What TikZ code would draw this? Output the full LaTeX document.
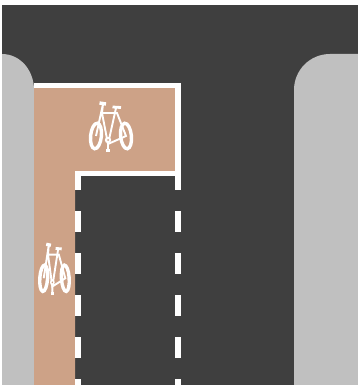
\documentclass[tikz,border=0pt]{standalone}
\definecolor{road}{HTML}{3F3F3F}
\definecolor{kerb}{HTML}{C0C0C0}
\definecolor{lane}{HTML}{CDA287}
\tikzset{
  marking/.style={fill=white},
  spoke/.style={draw=white,line width=1.9pt},
  tyre/.style={draw=white,line width=3.4pt},
  bike/.pic={
    \draw[tyre] (-15,9) ellipse[x radius=5.4,y radius=12.8,rotate=-6];
    \draw[tyre] (15,9) ellipse[x radius=5.4,y radius=12.8,rotate=6];
    \draw[spoke] (-15,9) -- (-8,-23) -- (-9,-14) -- (6,-14) -- (15,9) -- (-3,17) -- (-9,-14);
    \draw[spoke] (5,-19) -- (-3,17) -- (-3,23);
    \draw[spoke,line width=3.4pt] (-11.5,-24) -- (-5,-23);
    \draw[spoke,line width=2.8pt] (1.5,-20) -- (10,-19.5);
    \draw[spoke,line width=2.8pt] (-5,23.5) -- (-1,23.5);
    \fill[white] (-3,13) circle[radius=3.2];
    \fill[lane] (-3,13) circle[radius=1];
  }
}
\begin{document}
\begin{tikzpicture}[x=1pt,y=-1pt]
  \useasboundingbox (0,0) rectangle (358,385);
  \fill[road] (2,5) rectangle (358,385);
  % kerbs
  \fill[kerb] (2,385) -- (2,54) .. controls (20,54) and (34,70) .. (34,90) -- (34,385) -- cycle;
  \fill[kerb] (358,385) -- (358,54) -- (330,54) .. controls (310,54) and (294,70) .. (294,90) -- (294,385) -- cycle;
  % cycle lane
  \fill[lane] (34,85) -- (178,85) -- (178,173) -- (75,173) -- (75,385) -- (34,385) -- cycle;
  % solid edge lines
  \fill[marking] (34,83) rectangle (181,88);
  \fill[marking] (175,83) rectangle (181,190);
  \fill[marking] (75,171) rectangle (181,176);
  \fill[marking] (75,171) rectangle (81,190);
  % dashes
  \foreach \y in {211,253,295,337,379} {
    \fill[marking] (75,\y) rectangle (81,\y+21);
    \fill[marking] (175,\y) rectangle (181,\y+21);
  }
  \pic at (111,127) {bike};
  \pic[xscale=.72,yscale=1.03] at (54.5,269) {bike};
\end{tikzpicture}
\end{document}
